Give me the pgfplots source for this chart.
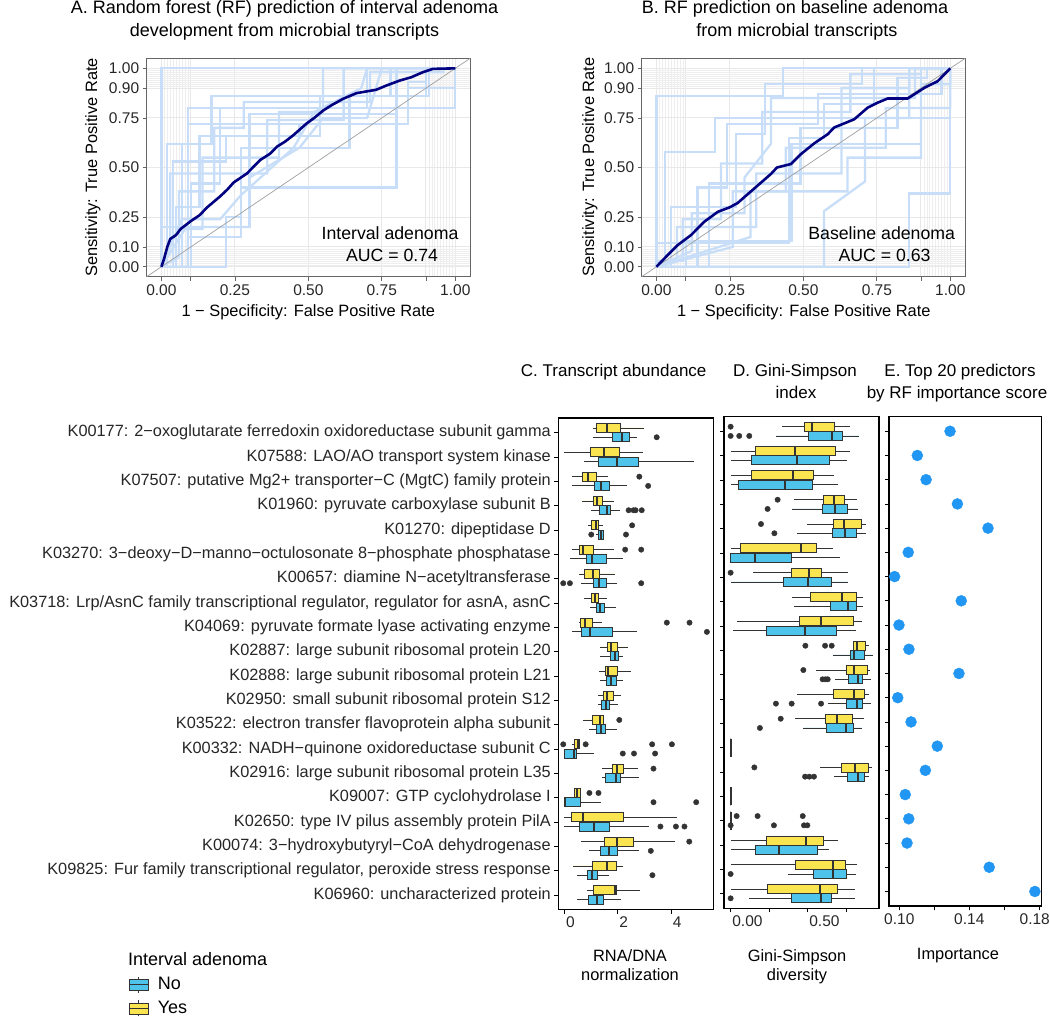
\documentclass[border=0pt]{standalone}
\usepackage{fontspec}
\setmainfont{Liberation Sans}
\usepackage{pgfplots}
\pgfplotsset{compat=1.18}
\usepgfplotslibrary{statistics}

\definecolor{navy}{RGB}{0,0,128}
\definecolor{lblue}{RGB}{200,222,248}
\definecolor{yel}{RGB}{250,229,80}
\definecolor{blu}{RGB}{79,196,234}
\definecolor{edge}{RGB}{51,51,51}
\definecolor{dotc}{RGB}{33,150,243}
\definecolor{gridc}{RGB}{232,232,232}
\definecolor{gridm}{RGB}{238,238,238}

\newcommand{\fs}[1]{\fontsize{#1}{#1}\selectfont}

\pgfplotsset{
  rocax/.style={scale only axis, width=323.3pt, height=218.3pt,
    xmin=-0.05, xmax=1.05, ymin=-0.05, ymax=1.05,
    xtick={0,0.1,0.25,0.5,0.75,0.9,1}, xticklabels={0.00,,0.25,0.50,0.75,,1.00},
    ytick={0,0.1,0.25,0.5,0.75,0.9,1}, yticklabels={0.00,0.10,0.25,0.50,0.75,0.90,1.00},
    minor xtick={0.01,0.02,0.03,0.04,0.05,0.06,0.07,0.08,0.09,0.91,0.92,0.93,0.94,0.95,0.96,0.97,0.98,0.99},
    minor ytick={0.01,0.02,0.03,0.04,0.05,0.06,0.07,0.08,0.09,0.91,0.92,0.93,0.94,0.95,0.96,0.97,0.98,0.99},
    grid=both, major grid style={gridc, line width=0.9pt}, minor grid style={gridm, line width=0.5pt},
    minor tick length=0pt, major tick length=4pt, tick align=outside, tick pos=left,
    axis line style={black!60, line width=0.7pt}, tick style={black!60, line width=0.7pt},
    tick label style={font=\fs{15.5}, text=black!85},
    /pgf/number format/assume math mode=true},
  lb/.style={lblue, line width=2.3pt},
  bxax/.style={scale only axis, ymin=0.4, ymax=20.6, y dir=reverse, ytick={1,...,20},
    tick align=outside, tick pos=left, major tick length=4pt,
    axis line style={black, line width=1.1pt}, tick style={black, line width=0.8pt},
    tick label style={font=\fs{15.5}, text=black!85},
    boxplot/draw direction=x, boxplot/box extend=0.37, boxplot/whisker extend=0,
    boxplot/every median/.style={line width=2pt},
    /pgf/number format/assume math mode=true},
  bx/.style={draw=edge, line width=0.8pt, solid, mark=none},
  outl/.style={only marks, mark=*, mark size=2.7pt, color=edge, mark options={draw=none, fill=edge}},
}

\newcommand{\BX}[7]{\addplot[bx, fill=#7, boxplot prepared={draw position={#1}, lower whisker=#2, lower quartile=#3, median=#4, upper quartile=#5, upper whisker=#6}] coordinates {};}
\newcommand{\BoxY}[6]{\BX{#1-0.19}{#2}{#3}{#4}{#5}{#6}{yel}}
\newcommand{\BoxB}[6]{\BX{#1+0.19}{#2}{#3}{#4}{#5}{#6}{blu}}

\begin{document}
\begin{tikzpicture}
\useasboundingbox (0pt,0pt) rectangle (1050pt,-1017pt);

% ---------------- Panel A ----------------
\begin{axis}[rocax, at={(146.7pt,-276.7pt)}, anchor=south west]
\addplot[lb] coordinates {(0,0)(0,1)(1,1)};
\addplot[lb] coordinates {(0,0)(0.07,0)(0.07,0.62)(0.09,0.62)(0.09,0.80)(0.70,0.80)(0.70,1)(1,1)};
\addplot[lb] coordinates {(0,0)(0.22,0)(0.22,0.25)(0.27,0.25)(0.27,0.60)(0.64,0.60)(0.64,0.86)(0.78,0.86)(0.78,1)(1,1)};
\addplot[lb] coordinates {(0,0)(0,0.20)(0.30,0.20)(0.30,0.77)(0.80,0.77)(0.80,1)(1,1)};
\addplot[lb] coordinates {(0,0)(0.09,0)(0.09,0.15)(0.27,0.15)(0.27,0.40)(0.80,0.40)(0.80,1)(1,1)};
\addplot[lb] coordinates {(0,0)(0.02,0)(0.02,0.62)(0.17,0.62)(0.17,0.86)(0.91,0.86)(0.91,1)(1,1)};
\addplot[lb] coordinates {(0,0)(0.05,0)(0.05,0.30)(0.13,0.30)(0.13,0.66)(0.54,0.66)(0.54,0.86)(0.90,0.86)(0.90,1)(1,1)};
\addplot[lb] coordinates {(0,0)(0.09,0)(0.09,0.72)(0.84,0.72)(0.84,0.93)(0.90,0.93)(0.90,1)(1,1)};
\addplot[lb] coordinates {(0,0)(0.1,0)(0.1,0.42)(0.20,0.42)(0.20,0.80)(1,0.80)(1,1)};
\addplot[lb] coordinates {(0,0)(0.07,0.24)(0.20,0.24)(0.27,0.36)(0.45,0.60)(0.52,0.78)(0.68,0.90)(0.70,1)(1,1)};
\addplot[lb] coordinates {(0,0)(0.03,0.10)(0.03,0.47)(0.36,0.47)(0.36,0.74)(0.62,0.74)(0.62,1)(1,1)};
\addplot[lb] coordinates {(0,0)(0.08,0.19)(0.14,0.19)(0.14,0.55)(0.40,0.55)(0.40,0.78)(0.55,0.78)(0.55,1)(1,1)};
\addplot[lb] coordinates {(0,0)(0.09,0)(0.09,0.2)(0.3,0.2)(0.3,0.45)(0.47,0.6)(0.55,0.75)(0.70,0.75)(0.75,1)(1,1)};
\addplot[lb] coordinates {(0,0)(0.06,0.05)(0.06,0.38)(0.18,0.38)(0.18,0.70)(0.28,0.70)(0.28,0.83)(0.71,0.83)(0.71,0.98)(0.96,0.98)(0.96,1)(1,1)};
\addplot[lb] coordinates {(0,0)(0.04,0)(0.04,0.53)(0.22,0.53)(0.22,0.66)(0.47,0.66)(0.47,0.72)(0.84,0.72)(0.84,0.9)(1,0.9)(1,1)};
\addplot[gray!75, line width=0.7pt] coordinates {(-0.05,-0.05)(1.05,1.05)};
\addplot[navy, line width=2.6pt, line join=round] coordinates {(0,0)(0.009,0.04)(0.02,0.10)(0.03,0.14)(0.05,0.16)(0.065,0.19)(0.1,0.23)(0.13,0.26)(0.156,0.30)(0.2,0.355)(0.225,0.39)(0.246,0.425)(0.291,0.47)(0.336,0.538)(0.37,0.57)(0.393,0.605)(0.42,0.63)(0.449,0.663)(0.494,0.722)(0.52,0.75)(0.551,0.788)(0.58,0.815)(0.619,0.847)(0.664,0.875)(0.731,0.892)(0.765,0.913)(0.81,0.938)(0.85,0.955)(0.889,0.98)(0.923,0.997)(1,1)};
\end{axis}

% ---------------- Panel B ----------------
\begin{axis}[rocax, at={(641.7pt,-276.7pt)}, anchor=south west]
\addplot[lb] coordinates {(0,0)(0,0.86)(0.43,0.86)(0.43,1)(1,1)};
\addplot[lb] coordinates {(0,0)(0.57,0)(0.57,0.28)(0.71,0.43)(0.71,0.75)(0.86,0.75)(0.86,1)(1,1)};
\addplot[lb] coordinates {(0,0)(0.10,0)(0.10,0.13)(0.46,0.13)(0.46,0.62)(0.90,0.62)(0.90,1)(1,1)};
\addplot[lb] coordinates {(0,0)(0.03,0)(0.03,0.58)(0.20,0.58)(0.20,0.75)(1,0.75)(1,1)};
\addplot[lb] coordinates {(0,0)(0.07,0.04)(0.07,0.20)(0.34,0.20)(0.34,0.47)(0.63,0.47)(0.63,0.90)(0.86,0.90)(0.86,1)(1,1)};
\addplot[lb] coordinates {(0,0)(0.14,0)(0.14,0.40)(0.24,0.40)(0.24,0.72)(0.55,0.72)(0.55,0.87)(0.97,0.87)(0.97,1)(1,1)};
\addplot[lb] coordinates {(0,0)(0.26,0.10)(0.26,0.38)(0.44,0.38)(0.44,0.60)(0.78,0.60)(0.78,0.80)(1,0.80)(1,1)};
\addplot[lb] coordinates {(0,0)(0.86,0)(0.86,0.37)(1,0.37)(1,1)};
\addplot[lb] coordinates {(0,0)(0,0.12)(0.45,0.12)(0.45,0.65)(0.57,0.65)(0.57,0.82)(0.74,0.82)(0.74,1)(1,1)};
\addplot[lb] coordinates {(0,0)(0.12,0.08)(0.12,0.27)(0.30,0.27)(0.30,0.45)(0.39,0.62)(0.39,0.85)(0.88,0.85)(0.88,1)(1,1)};
\addplot[lb] coordinates {(0,0)(0.18,0)(0.18,0.42)(0.49,0.42)(0.49,0.70)(0.82,0.70)(0.82,0.95)(0.92,0.95)(0.92,1)(1,1)};
\addplot[lb] coordinates {(0,0)(0.05,0)(0.05,0.30)(0.27,0.30)(0.27,0.67)(0.37,0.67)(0.37,0.92)(0.70,0.92)(0.70,1)(1,1)};
\addplot[lb] coordinates {(0,0)(0.32,0.15)(0.32,0.38)(0.65,0.38)(0.65,0.55)(0.90,0.55)(0.90,0.92)(1,0.92)(1,1)};
\addplot[lb] coordinates {(0,0)(0.01,0.03)(0.09,0.03)(0.09,0.24)(0.22,0.24)(0.22,0.52)(0.36,0.52)(0.36,0.78)(0.66,0.78)(0.66,0.97)(0.90,0.97)(0.90,1)(1,1)};
\addplot[gray!75, line width=0.7pt] coordinates {(-0.05,-0.05)(1.05,1.05)};
\addplot[navy, line width=2.6pt, line join=round] coordinates {(0,0)(0.039,0.06)(0.073,0.11)(0.118,0.16)(0.163,0.227)(0.209,0.277)(0.25,0.30)(0.277,0.322)(0.3,0.352)(0.345,0.41)(0.39,0.468)(0.41,0.5)(0.458,0.518)(0.492,0.568)(0.537,0.622)(0.583,0.668)(0.605,0.702)(0.673,0.743)(0.719,0.802)(0.753,0.827)(0.787,0.848)(0.855,0.848)(0.912,0.902)(0.957,0.935)(1,1)};
\end{axis}

% ---------------- Panel C ----------------
\begin{axis}[bxax, at={(558.3pt,-909.5pt)}, anchor=south west, width=155pt, height=491.5pt,
  xmin=-0.225, xmax=5.58, xtick={0,2,4}, xticklabels={0,2,4},
  xticklabel style={anchor=north west, inner xsep=0pt, xshift=1.5pt},
  yticklabel style={font=\fs{16.3}},
  yticklabels={K00177: 2−oxoglutarate ferredoxin oxidoreductase subunit gamma,
    K07588: LAO/AO transport system kinase,
    K07507: putative Mg2+ transporter−C (MgtC) family protein,
    K01960: pyruvate carboxylase subunit B,
    K01270: dipeptidase D,
    K03270: 3−deoxy−D−manno−octulosonate 8−phosphate phosphatase,
    K00657: diamine N−acetyltransferase,
    {K03718: Lrp/AsnC family transcriptional regulator, regulator for asnA, asnC},
    K04069: pyruvate formate lyase activating enzyme,
    K02887: large subunit ribosomal protein L20,
    K02888: large subunit ribosomal protein L21,
    K02950: small subunit ribosomal protein S12,
    K03522: electron transfer flavoprotein alpha subunit,
    K00332: NADH−quinone oxidoreductase subunit C,
    K02916: large subunit ribosomal protein L35,
    K09007: GTP cyclohydrolase I,
    K02650: type IV pilus assembly protein PilA,
    K00074: 3−hydroxybutyryl−CoA dehydrogenase,
    {K09825: Fur family transcriptional regulator, peroxide stress response},
    K06960: uncharacterized protein},
  legend style={at={(axis description cs:-2.776,-0.134)}, anchor=north west, draw=none, fill=none, inner sep=0pt, row sep=6pt, column sep=7pt, font=\fs{18}},
  legend cell align=left]
\addlegendimage{legend image code/.code={
  \draw[edge,line width=0.8pt] (9.5pt,-8pt)--(9.5pt,8pt);
  \draw[draw=edge,fill=blu,line width=0.8pt] (0pt,-5.5pt) rectangle (19pt,5.5pt);
  \draw[edge,line width=1.6pt] (0pt,0pt)--(19pt,0pt);}}
\addlegendentry{No}
\addlegendimage{legend image code/.code={
  \draw[edge,line width=0.8pt] (9.5pt,-8pt)--(9.5pt,8pt);
  \draw[draw=edge,fill=yel,line width=0.8pt] (0pt,-5.5pt) rectangle (19pt,5.5pt);
  \draw[edge,line width=1.6pt] (0pt,0pt)--(19pt,0pt);}}
\addlegendentry{Yes}
\BoxY{1}{1.06}{1.19}{1.61}{2.10}{3.0}   \BoxB{1}{1.06}{1.80}{2.15}{2.45}{2.74}
\BoxY{2}{0.0}{0.99}{1.49}{2.06}{2.95}   \BoxB{2}{0.74}{1.29}{1.96}{2.78}{4.85}
\BoxY{3}{0.3}{0.69}{0.9}{1.2}{1.65}     \BoxB{3}{0.3}{1.11}{1.36}{1.68}{2.36}
\BoxY{4}{0.65}{1.08}{1.24}{1.41}{1.85}  \BoxB{4}{1.0}{1.30}{1.59}{1.74}{2.1}
\BoxY{5}{0.89}{1.03}{1.18}{1.26}{1.46}  \BoxB{5}{1.19}{1.29}{1.38}{1.46}{1.5}
\BoxY{6}{0.3}{0.55}{0.71}{1.1}{1.85}    \BoxB{6}{0.21}{0.83}{1.04}{1.56}{2.18}
\BoxY{7}{0.56}{0.75}{1.09}{1.33}{1.89}  \BoxB{7}{0.63}{1.08}{1.29}{1.59}{1.99}
\BoxY{8}{0.75}{1.0}{1.15}{1.29}{1.61}   \BoxB{8}{0.98}{1.2}{1.34}{1.5}{1.93}
\BoxY{9}{0.54}{0.59}{0.79}{1.06}{1.4}   \BoxB{9}{0.3}{0.64}{0.96}{1.8}{2.74}
\BoxY{10}{1.34}{1.61}{1.74}{2.0}{2.4}   \BoxB{10}{1.34}{1.74}{1.89}{2.03}{2.21}
\BoxY{11}{1.31}{1.54}{1.65}{1.99}{2.48} \BoxB{11}{1.34}{1.59}{1.75}{1.95}{2.21}
\BoxY{12}{1.28}{1.46}{1.61}{1.84}{2.13} \BoxB{12}{1.28}{1.4}{1.55}{1.69}{2.0}
\BoxY{13}{0.69}{1.06}{1.35}{1.46}{1.5}  \BoxB{13}{0.93}{1.21}{1.36}{1.54}{1.96}
\BoxY{14}{0.3}{0.38}{0.5}{0.56}{0.6}    \BoxB{14}{0.0}{0.0}{0.38}{0.46}{1.13}
\BoxY{15}{1.4}{1.8}{1.96}{2.2}{2.75}    \BoxB{15}{1.4}{1.55}{1.95}{2.1}{2.8}
\BoxY{16}{0.38}{0.38}{0.46}{0.59}{0.59} \BoxB{16}{0.0}{0.0}{0.03}{0.6}{1.38}
\BoxY{17}{0.0}{0.25}{0.71}{2.23}{4.21}  \BoxB{17}{0.0}{0.55}{1.13}{1.69}{3.16}
\BoxY{18}{0.63}{1.5}{1.96}{2.6}{4.16}   \BoxB{18}{0.93}{1.34}{1.66}{1.99}{2.8}
\BoxY{19}{0.34}{1.06}{1.6}{1.95}{2.18}  \BoxB{19}{0.46}{0.88}{1.03}{1.25}{1.69}
\BoxY{20}{0.86}{1.09}{1.91}{1.96}{2.85} \BoxB{20}{0.49}{0.9}{1.24}{1.46}{2.14}
\addplot[outl] coordinates {(3.46,1.19)(2.81,2.81)(3.14,3.19)(2.41,4.19)(2.59,4.19)(2.67,4.19)(2.9,4.19)
 (2.54,4.81)(1.01,5.19)(2.31,5.19)(2.28,5.81)(2.88,5.81)(-0.04,7.19)(0.21,7.19)(2.88,7.19)
 (3.84,8.81)(4.69,8.81)(5.34,9.19)(2.06,12.81)(-0.04,13.81)(0.8,13.81)(3.29,13.81)(4.03,13.81)
 (2.19,14.19)(2.61,14.19)(3.4,14.19)(3.34,14.81)(0.94,15.81)(1.28,15.81)(3.34,16.19)(4.94,16.19)
 (3.6,17.19)(4.18,17.19)(4.5,17.19)(4.68,17.81)(3.24,18.19)(3.3,19.19)};
\end{axis}

% ---------------- Panel D ----------------
\begin{axis}[bxax, at={(724pt,-908.3pt)}, anchor=south west, width=155pt, height=491.6pt,
  xmin=-0.043, xmax=0.963, xtick={0,0.25,0.5,0.75}, xticklabels={0.00,,0.50,},
  xticklabel style={anchor=north west, inner xsep=0pt, xshift=1.5pt},
  yticklabels={}]
\BoxY{1}{0.331}{0.476}{0.526}{0.673}{0.775}  \BoxB{1}{0.294}{0.504}{0.66}{0.727}{0.835}
\BoxY{2}{0}{0.162}{0.416}{0.682}{0.775}      \BoxB{2}{0}{0.136}{0.429}{0.641}{0.758}
\BoxY{3}{0}{0.136}{0.403}{0.539}{0.673}      \BoxB{3}{0}{0.05}{0.353}{0.53}{0.699}
\BoxY{4}{0.413}{0.602}{0.671}{0.736}{0.823}  \BoxB{4}{0.396}{0.593}{0.677}{0.758}{0.829}
\BoxY{5}{0.494}{0.667}{0.736}{0.846}{0.879}  \BoxB{5}{0.429}{0.66}{0.74}{0.818}{0.879}
\BoxY{6}{0}{0.065}{0.455}{0.558}{0.667}      \BoxB{6}{0}{0}{0.158}{0.396}{0.71}
\BoxY{7}{0.147}{0.396}{0.509}{0.587}{0.764}  \BoxB{7}{0}{0.342}{0.504}{0.652}{0.764}
\BoxY{8}{0.396}{0.515}{0.721}{0.818}{0.857}  \BoxB{8}{0.413}{0.649}{0.76}{0.818}{0.861}
\BoxY{9}{0.043}{0.444}{0.584}{0.797}{0.851}  \BoxB{9}{0.017}{0.229}{0.485}{0.688}{0.814}
\BoxY{10}{0.796}{0.796}{0.818}{0.874}{0.9}   \BoxB{10}{0.662}{0.779}{0.801}{0.868}{0.922}
\BoxY{11}{0.554}{0.749}{0.801}{0.89}{0.905}  \BoxB{11}{0.677}{0.766}{0.829}{0.853}{0.909}
\BoxY{12}{0.433}{0.669}{0.801}{0.866}{0.898} \BoxB{12}{0.63}{0.749}{0.823}{0.855}{0.911}
\BoxY{13}{0.418}{0.615}{0.69}{0.79}{0.864}   \BoxB{13}{0.472}{0.619}{0.747}{0.797}{0.855}
\BoxY{14}{0}{0}{0}{0}{0}                     \BoxB{14}{0}{0}{0}{0}{0}
\BoxY{15}{0.58}{0.721}{0.807}{0.892}{0.916}  \BoxB{15}{0.673}{0.758}{0.829}{0.87}{0.9}
\BoxY{16}{0}{0}{0}{0}{0}                     \BoxB{16}{0}{0}{0}{0}{0}
\BoxY{17}{0}{0}{0}{0}{0}                     \BoxB{17}{0}{0}{0}{0}{0}
\BoxY{18}{0}{0.229}{0.489}{0.602}{0.699}     \BoxB{18}{0}{0.158}{0.316}{0.565}{0.641}
\BoxY{19}{0}{0.422}{0.662}{0.747}{0.818}     \BoxB{19}{0.37}{0.539}{0.665}{0.753}{0.812}
\BoxY{20}{0}{0.24}{0.582}{0.693}{0.807}      \BoxB{20}{0.117}{0.396}{0.587}{0.652}{0.807}
\addplot[outl] coordinates {(0,0.81)(0,1.19)(0.056,1.19)(0.121,1.19)(0.305,3.81)(0.24,4.19)
 (0.197,4.81)(0.284,5.19)(0,6.81)(0.485,9.81)(0.613,9.81)(0.656,9.81)(0.472,10.81)
 (0.597,11.19)(0.615,11.19)(0.63,11.19)(0.294,12.19)(0.396,12.19)(0.587,12.19)
 (0.325,12.81)(0.19,13.19)(0.154,14.81)(0.483,15.19)(0.511,15.19)(0.541,15.19)
 (0.039,16.81)(0.175,16.81)(0.468,16.81)(0,17.19)(0.281,17.19)(0.476,17.19)(0.498,17.19)
 (0,19.19)(0,20.19)};
\end{axis}

% ---------------- Panel E ----------------
\begin{axis}[bxax, at={(889pt,-906pt)}, anchor=south west, width=152.7pt, height=489.3pt,
  xmin=0.0941, xmax=0.1814, xtick={0.10,0.12,0.14,0.16,0.18}, xticklabels={0.10,,0.14,,{\hspace{-9pt}0.18}},
  yticklabels={}]
\addplot[only marks, mark=*, mark size=5.5pt, color=dotc, mark options={draw=none, fill=dotc}] coordinates {
 (0.1290,1)(0.1103,2)(0.1153,3)(0.1332,4)(0.1507,5)(0.1051,6)(0.0973,7)(0.1354,8)(0.0998,9)(0.1055,10)
 (0.1341,11)(0.0991,12)(0.1067,13)(0.1217,14)(0.1149,15)(0.1034,16)(0.1054,17)(0.1044,18)(0.1514,19)(0.1775,20)};
\end{axis}

% ---------------- Texts ----------------
\node[font=\fs{18}, anchor=base] at (284.5pt,-13.8pt) {A. Random forest (RF) prediction of interval adenoma};
\node[font=\fs{18}, anchor=base] at (284.5pt,-36pt) {development from microbial transcripts};
\node[font=\fs{18}, anchor=base] at (795pt,-13.8pt) {B. RF prediction on baseline adenoma};
\node[font=\fs{18}, anchor=base] at (797pt,-36pt) {from microbial transcripts};
\node[font=\fs{16.4}, anchor=base] at (308.3pt,-316pt) {1 − Specificity: False Positive Rate};
\node[font=\fs{16.4}, anchor=base] at (803.8pt,-316pt) {1 − Specificity: False Positive Rate};
\node[font=\fs{16.4}, rotate=90] at (93pt,-167.5pt) {Sensitivity: True Positive Rate};
\node[font=\fs{16.4}, rotate=90] at (590pt,-167pt) {Sensitivity: True Positive Rate};
\node[font=\fs{17.7}, anchor=base] at (390pt,-239pt) {Interval adenoma};
\node[font=\fs{17.7}, anchor=base] at (392pt,-261.7pt) {AUC = 0.74};
\node[font=\fs{17.7}, anchor=base] at (881.7pt,-239pt) {Baseline adenoma};
\node[font=\fs{17.7}, anchor=base] at (884.5pt,-261.7pt) {AUC = 0.63};
\node[font=\fs{17}, anchor=base east] at (710pt,-376.5pt) {C. Transcript abundance};
\node[font=\fs{17}, anchor=base] at (795pt,-376.5pt) {D. Gini-Simpson};
\node[font=\fs{17}, anchor=base] at (796pt,-398.5pt) {index};
\node[font=\fs{17}, anchor=base] at (960pt,-376.5pt) {E. Top 20 predictors};
\node[font=\fs{17}, anchor=base] at (957pt,-398.5pt) {by RF importance score};
\node[font=\fs{16.4}, anchor=base] at (630pt,-961.7pt) {RNA/DNA};
\node[font=\fs{16.4}, anchor=base] at (630pt,-980.5pt) {normalization};
\node[font=\fs{16.4}, anchor=base] at (797pt,-961.7pt) {Gini-Simpson};
\node[font=\fs{16.4}, anchor=base] at (797pt,-980.5pt) {diversity};
\node[font=\fs{16.4}, anchor=base] at (958pt,-959pt) {Importance};
\node[font=\fs{18}, anchor=base west, inner xsep=0pt] at (128pt,-965pt) {Interval adenoma};
\end{tikzpicture}
\end{document}
